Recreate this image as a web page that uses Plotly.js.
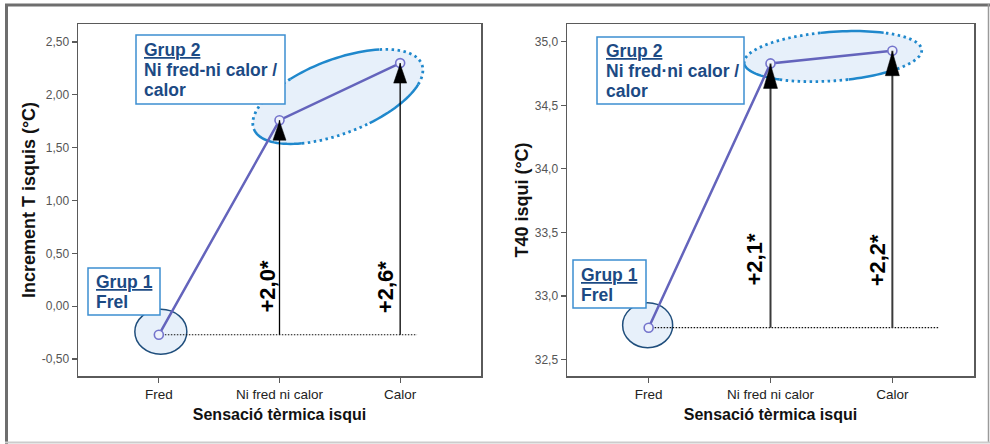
<!DOCTYPE html>
<html><head><meta charset="utf-8">
<script src="https://cdn.plot.ly/plotly-3.0.1.min.js"></script>
<style>html,body{margin:0;padding:0;background:#fff;} #chart{width:990px;height:444px;}</style>
</head><body><div id="chart"></div>
<script>
// ---------- data ----------
const categories = ['Fred', 'Ni fred ni calor', 'Calor'];
const incrementValues = [-0.27, 1.76, 2.30];
const t40Values = [32.75, 34.83, 34.93];
const leftTickVals = [-0.5, 0, 0.5, 1, 1.5, 2, 2.5];
const leftTickText = ['-0,50', '0,00', '0,50', '1,00', '1,50', '2,00', '2,50'];
const rightTickVals = [32.5, 33, 33.5, 34, 34.5, 35];
const rightTickText = ['32,5', '33,0', '33,5', '34,0', '34,5', '35,0'];
const xTitle = 'Sensació tèrmica isqui';
const leftYTitle = 'Increment T isquis (°C)';
const rightYTitle = 'T40 isqui (°C)';
const group1Lines = ['<u>Grup 1</u>', 'Frel'];
const group2LinesLeft = ['<u>Grup 2</u>', 'Ni fred-ni calor /', 'calor'];
const group2LinesRight = ['<u>Grup 2</u>', 'Ni fred·ni calor /', 'calor'];

// ---------- helpers ----------
const W = 990, H = 444;
const px = x => x / W;
const py = y => 1 - y / H;
const FONT = 'Liberation Sans, Arial, sans-serif';
const LINE_COLOR = '#6464bc';
const FILL = '#e7f0fa';
const G2_COLOR = '#1f88cc';
const G1_COLOR = '#1f4e7c';
const TEXT_BLUE = '#1c4a84';
const fmt = v => '+' + v.toFixed(1).replace('.', ',') + '*';

function ellipseArc(a, b, thetaDeg, t0, t1, dx, dy, close) {
  const th = thetaDeg * Math.PI / 180;
  const n = Math.max(8, Math.ceil(Math.abs(t1 - t0) / 3));
  let s = '';
  for (let i = 0; i <= n; i++) {
    const t = (t0 + (t1 - t0) * i / n) * Math.PI / 180;
    const ex = a * Math.cos(t), ey = b * Math.sin(t);
    const x = dx + ex * Math.cos(th) - ey * Math.sin(th);
    const y = dy + ex * Math.sin(th) + ey * Math.cos(th);
    s += (i ? 'L' : 'M') + x.toFixed(2) + ',' + y.toFixed(2);
  }
  return close ? s + 'Z' : s;
}

function group2Ellipse(xr, yr, values, e) {
  const anchor = {xref: xr, yref: yr, xsizemode: 'pixel', ysizemode: 'pixel',
    xanchor: 1.5, yanchor: (values[1] + values[2]) / 2, layer: 'below', type: 'path'};
  const out = [];
  out.push(Object.assign({}, anchor, {path: ellipseArc(e.a, e.b, e.th, 0, 360, e.dx, e.dy, true),
    fillcolor: FILL, line: {width: 0}}));
  e.solid.forEach(r => out.push(Object.assign({}, anchor, {path: ellipseArc(e.a, e.b, e.th, r[0], r[1], e.dx, e.dy, false),
    line: {color: G2_COLOR, width: 2.5}})));
  e.dotted.forEach(r => out.push(Object.assign({}, anchor, {path: ellipseArc(e.a, e.b, e.th, r[0], r[1], e.dx, e.dy, false),
    line: {color: G2_COLOR, width: 2.8, dash: '2.5px,3.5px'}})));
  return out;
}

function group1Ellipse(xr, yr, values, dx, dy, rx, ry) {
  return {type: 'circle', xref: xr, yref: yr, xsizemode: 'pixel', ysizemode: 'pixel',
    xanchor: 0, yanchor: values[0], x0: dx - rx, x1: dx + rx, y0: dy - ry, y1: dy + ry,
    fillcolor: FILL, line: {color: G1_COLOR, width: 1.5}, layer: 'below'};
}

function arrows(xr, yr, values, color, width, hw, hh, baseEnd) {
  const out = [];
  out.push({type: 'line', xref: xr, yref: yr, x0: 0, x1: baseEnd, y0: values[0], y1: values[0],
    line: {color: '#111', width: 1.2, dash: '1.5px,1.5px'}, layer: 'below'});
  [1, 2].forEach(i => {
    out.push({type: 'line', xref: xr, yref: yr, x0: i, x1: i, y0: values[0], y1: values[i],
      line: {color: color, width: width}, layer: 'above'});
    out.push({type: 'path', xref: xr, yref: yr, xsizemode: 'pixel', ysizemode: 'pixel',
      xanchor: i, yanchor: values[i], path: `M0,-1L${-hw},${-hh}L${hw},${-hh}Z`,
      fillcolor: '#000', line: {color: '#000', width: 0.5}, layer: 'above'});
  });
  return out;
}

function box(x0, y0, x1, y1) {
  return {type: 'rect', xref: 'paper', yref: 'paper', x0: px(x0), x1: px(x1), y0: py(y1), y1: py(y0),
    fillcolor: '#fff', line: {color: '#3d8fd1', width: 1.5}, layer: 'above'};
}

function boxText(lines, x, yCenters) {
  return lines.map((t, i) => ({xref: 'paper', yref: 'paper', x: px(x), y: py(yCenters[i]),
    xanchor: 'left', yanchor: 'middle', showarrow: false, text: t,
    font: {family: FONT, size: 17.5, weight: 'bold', color: TEXT_BLUE}}));
}

// ---------- traces ----------
const traceStyle = {type: 'scatter', mode: 'lines+markers', hoverinfo: 'skip',
  line: {color: LINE_COLOR, width: 2.5},
  marker: {symbol: 'circle', size: 9, color: '#eef2fb', line: {color: '#7474cc', width: 1.6}}};
const traces = [
  Object.assign({}, traceStyle, {x: categories, y: incrementValues, xaxis: 'x', yaxis: 'y'}),
  Object.assign({}, traceStyle, {x: categories, y: t40Values, xaxis: 'x2', yaxis: 'y2'})
];

// ---------- layout ----------
const axisCommon = {showline: true, mirror: true, linecolor: '#5a5a5a', linewidth: 1.5,
  ticks: 'outside', ticklen: 5, tickcolor: '#5a5a5a', tickwidth: 1.2,
  showgrid: false, zeroline: false, fixedrange: true};
const xCommon = Object.assign({}, axisCommon, {type: 'category', range: [-0.67, 2.67],
  tickfont: {family: FONT, size: 13.5, color: '#222'},
  title: {text: xTitle, standoff: 8, font: {family: FONT, size: 16, weight: 'bold', color: '#111'}}});
const yDomain = [py(376), py(24)];

const shapes = [].concat(
  group2Ellipse('x', 'y', incrementValues, {a: 90, b: 37, th: 21, dx: -2, dy: -5,
    solid: [[52, 115], [180, 236], [283, 332]], dotted: [[115, 180], [236, 283], [332, 412]]}),
  group2Ellipse('x2', 'y2', t40Values, {a: 89, b: 24.5, th: 4.2, dx: 1.5, dy: 0.7,
    solid: [[54, 97], [180, 232], [279, 310]], dotted: [[97, 180], [232, 279], [310, 414]]}),
  [group1Ellipse('x', 'y', incrementValues, 2, 3, 26, 22.5),
   group1Ellipse('x2', 'y2', t40Values, -1, 2.5, 25, 22.5)],
  arrows('x', 'y', incrementValues, '#000', 1.3, 6.5, 20, 2.14),
  arrows('x2', 'y2', t40Values, '#3a3a3a', 2, 7, 25, 2.38),
  [box(136, 35, 285, 104), box(88, 268, 160, 315), box(597, 37, 744, 104), box(573, 260, 646, 308)],
  [
    {type: 'line', xref: 'paper', yref: 'paper', x0: px(5), x1: px(990), y0: py(5), y1: py(5), line: {color: '#6e6e6e', width: 3}, layer: 'above'},
    {type: 'line', xref: 'paper', yref: 'paper', x0: px(6.5), x1: px(6.5), y0: py(4), y1: py(444), line: {color: '#6e6e6e', width: 3}, layer: 'above'},
    {type: 'line', xref: 'paper', yref: 'paper', x0: px(988.5), x1: px(988.5), y0: py(4), y1: py(443), line: {color: '#9a9a9a', width: 1.5}, layer: 'above'},
    {type: 'line', xref: 'paper', yref: 'paper', x0: px(5), x1: px(990), y0: py(442.5), y1: py(442.5), line: {color: '#cccccc', width: 2}, layer: 'above'}
  ]
);

const diffLabel = (xr, i, values, xshift, yc) => ({xref: xr, yref: 'paper', x: i, y: py(yc), xshift: xshift,
  text: fmt(values[i] - values[0]), textangle: -90, showarrow: false, xanchor: 'center', yanchor: 'middle',
  font: {family: FONT, size: 22, weight: 'bold', color: '#000'}});

const annotations = [].concat(
  boxText(group2LinesLeft, 142, [50, 70, 90]),
  boxText(group1Lines, 94, [282, 302]),
  boxText(group2LinesRight, 604, [51, 71, 91]),
  boxText(group1Lines, 579, [275, 295]),
  [diffLabel('x', 1, incrementValues, -13, 287), diffLabel('x', 2, incrementValues, -15, 287),
   diffLabel('x2', 1, t40Values, -17, 260), diffLabel('x2', 2, t40Values, -15, 260)]
);

const layout = {
  width: W, height: H, margin: {l: 0, r: 0, t: 0, b: 0},
  paper_bgcolor: '#fff', plot_bgcolor: '#fff', showlegend: false,
  font: {family: FONT},
  xaxis: Object.assign({}, xCommon, {domain: [px(78), px(481)], anchor: 'y'}),
  xaxis2: Object.assign({}, xCommon, {domain: [px(567), px(974)], anchor: 'y2'}),
  yaxis: Object.assign({}, axisCommon, {domain: yDomain, anchor: 'x', range: [-0.66, 2.67],
    tickvals: leftTickVals, ticktext: leftTickText, tickfont: {family: FONT, size: 12, color: '#555'},
    title: {text: leftYTitle, standoff: 1, font: {family: FONT, size: 18, weight: 'bold', color: '#111'}}}),
  yaxis2: Object.assign({}, axisCommon, {domain: yDomain, anchor: 'x2', range: [32.37, 35.14],
    tickvals: rightTickVals, ticktext: rightTickText, tickfont: {family: FONT, size: 12, color: '#555'},
    title: {text: rightYTitle, standoff: 1, font: {family: FONT, size: 18, weight: 'bold', color: '#111'}}}),
  shapes: shapes,
  annotations: annotations
};

Plotly.newPlot('chart', traces, layout, {displayModeBar: false, staticPlot: true});
</script>
</body></html>
